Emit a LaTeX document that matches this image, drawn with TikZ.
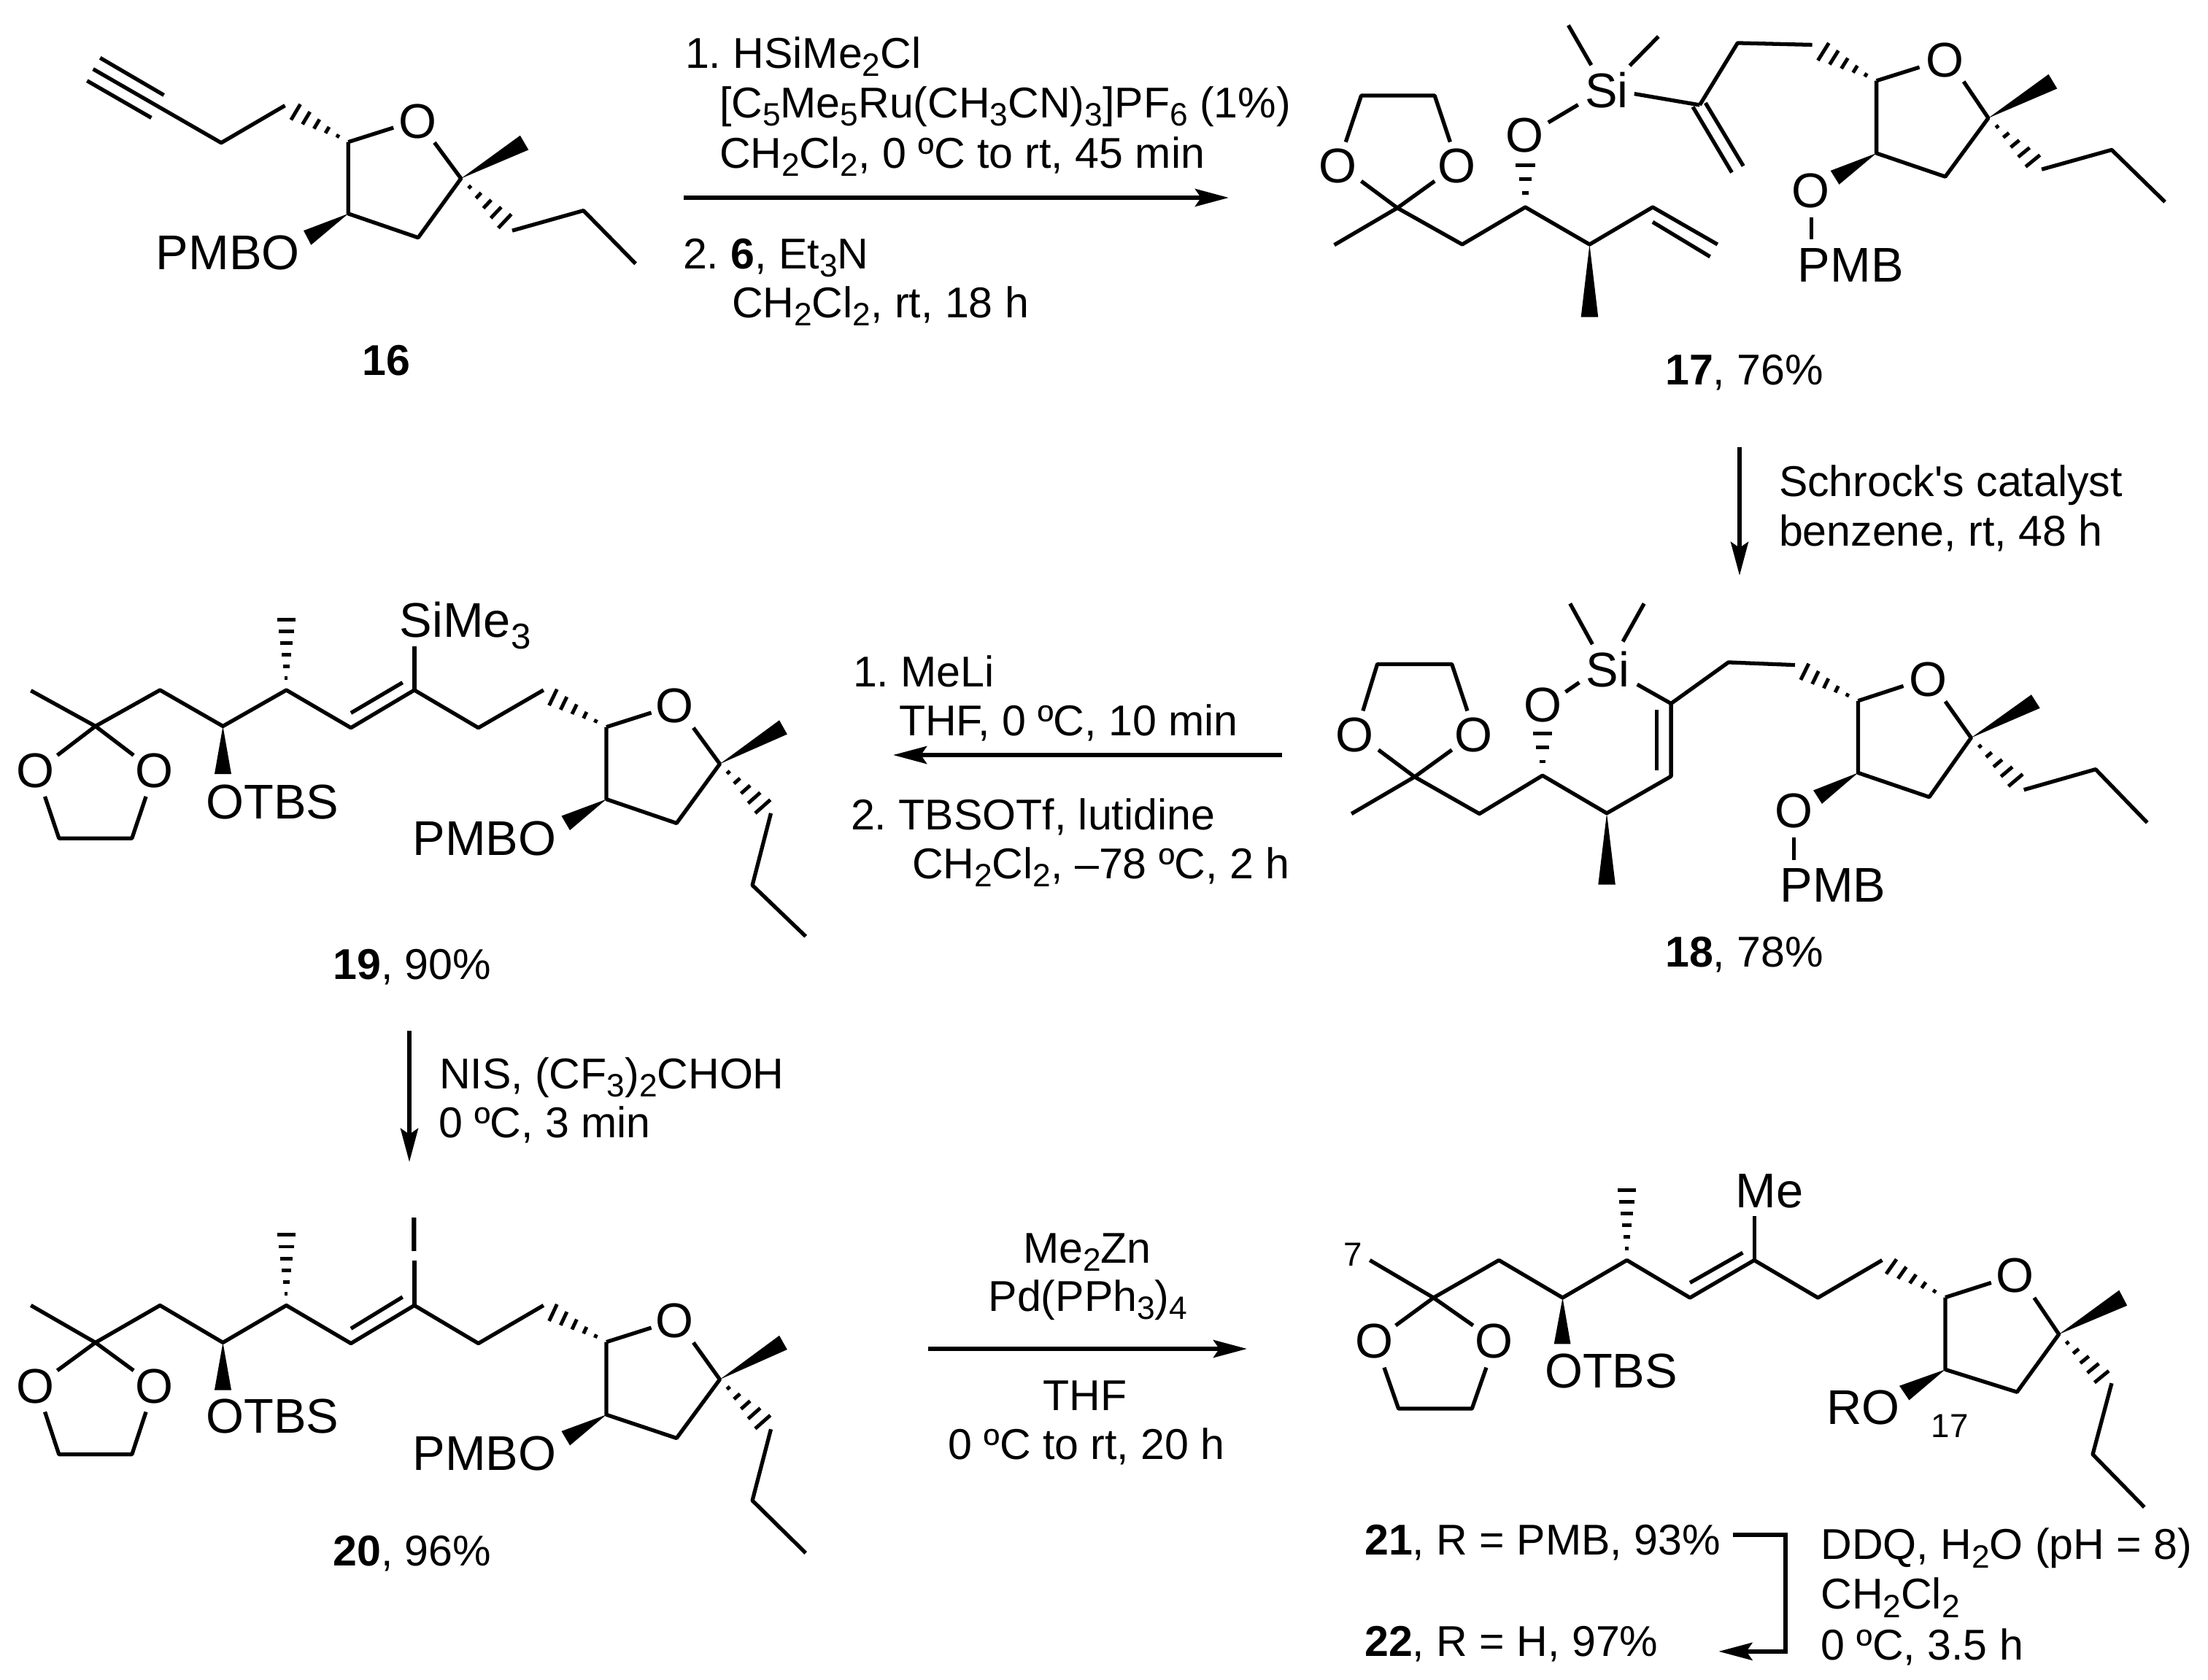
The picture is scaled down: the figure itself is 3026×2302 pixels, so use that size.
\documentclass[tikz,border=0pt]{standalone}
\usepackage{fontspec}
\setmainfont{Liberation Sans}
\newfontfamily\plainf{Liberation Sans}
\usetikzlibrary{calc,arrows.meta}
\newcommand\mf{\frenchspacing\fontsize{19}{23}\selectfont}
\newcommand\rf{\frenchspacing\fontsize{16.8}{20}\selectfont}
\newcommand\sbs[1]{\raisebox{-3.3pt}{\fontsize{12.6}{13}\selectfont #1}}
\newcommand\sbm[1]{\raisebox{-4.5pt}{\fontsize{14}{14}\selectfont #1}}
\newcommand\hashw[4]{\foreach \k in {1,...,#4}{\draw[hb] ($(#1)!\k/#4!(#2)$) -- ($(#1)!\k/#4!(#3)$);}}
\newcommand\wdg[3]{\fill (#1) -- (#2) -- (#3) -- cycle;}
\tikzset{
  bond/.style={line width=1.5pt,line join=round,line cap=butt},
  hb/.style={line width=1.4pt,line cap=butt},
  lab/.style={inner sep=0,outer sep=0,anchor=base west,font=\mf},
  rg/.style={inner sep=0,outer sep=0,anchor=base west,font=\rf},
  atm/.style={inner sep=0,outer sep=0,anchor=center,font=\mf},
  cen/.style={inner sep=0,outer sep=0,anchor=base,font=\rf},
  sml/.style={inner sep=0,outer sep=0,anchor=center,font=\fontsize{13}{14}\selectfont},
  rxn/.style={line width=1.7pt,line join=miter,-{Stealth[length=0.46cm,width=0.24cm,inset=0.08cm]}},
}
\begin{document}
\begin{tikzpicture}[x=0.01cm,y=-0.01cm]
\fill[white] (0,0) rectangle (3026,2302);
\useasboundingbox (0,0) rectangle (3026,2302);
% ---------- 16
\begin{scope}[x=0.0063776cm,y=-0.0035714cm]
\draw[bond] (200,265)--(475,548)--(612,405);
\draw[bond] (215,222)--(352,365);
\draw[bond] (187,310)--(325,452);
\hashw{748,545}{645,400}{625,460}{5}
\draw[bond] (748,545)--(845,490);
\draw[bond] (933,547)--(990,685)--(898,912)--(748,820)--(748,545);
\wdg{990,685}{1117,520}{1135,575}
\wdg{748,820}{652,885}{668,940}
\hashw{990,685}{1098,822}{1070,875}{5}
\draw[bond] (1100,885)--(1253,808)--(1365,1012);
\node[atm] (o16) at (897,465) {O};
\node[lab] (p16) at (335,1035) {PMBO};
\node[rg] (n16) at (778,1440) {\textbf{16}};
\end{scope}
% ---------- 17
\begin{scope}[xshift=18cm,x=0.0078616cm,y=-0.0035714cm]
\node[atm] (o17a) at (41,638) {O};
\node[atm] (o17b) at (248,638) {O};
\draw[bond] (55,545)--(82,367)--(210,367)--(237,545);
\draw[bond] (82,695)--(145,798)--(210,695);
\draw[bond] (145,798)--(35,940);
\draw[bond] (145,798)--(258,938)--(368,795)--(480,938)--(590,795)--(703,938);
\draw[bond] (590,852)--(690,985);
\wdg{480,938}{465,1217}{495,1217}
\hashw{368,795}{351,635}{385,635}{3}
\node[atm] (o17c) at (367,520) {O};
\draw[bond] (408,470)--(460,402);
\node[atm] (si17) at (510,345) {Si};
\draw[bond] (483,250)--(443,97);
\draw[bond] (550,252)--(600,140);
\draw[bond] (558,360)--(672,403);
\draw[bond] (660,410)--(728,662);
\draw[bond] (682,395)--(748,637);
\draw[bond] (672,403)--(738,165)--(868,172);
\hashw{980,310}{897,165}{878,232}{5}
\draw[bond] (980,310)--(1055,258);
\draw[bond] (1132,313)--(1175,453)--(1100,678)--(980,588)--(980,310);
\node[atm] (o17d) at (1100,230) {O};
\wdg{1175,453}{1280,285}{1295,340}
\wdg{980,588}{900,655}{915,708}
\hashw{1175,453}{1265,595}{1240,640}{5}
\draw[bond] (1268,650)--(1390,575)--(1483,775);
\node[atm] (o17e) at (866,733) {O};
\draw[bond] (867,835)--(867,918);
\node[lab] (p17) at (843,1082) {PMB};
\node[rg] (n17) at (612,1478) {\textbf{17}, 76\%};
\end{scope}
% ---------- 18
\begin{scope}[xshift=18cm,yshift=-7.8cm,x=0.0078616cm,y=-0.0036996cm]
\node[atm] (o18a) at (70,615) {O};
\node[atm] (o18b) at (278,615) {O};
\draw[bond] (85,525)--(110,352)--(240,352)--(267,525);
\draw[bond] (112,670)--(175,770)--(240,670);
\draw[bond] (175,770)--(65,907);
\draw[bond] (175,770)--(288,907)--(398,765)--(510,905)--(622,768)--(622,498)--(722,345)--(838,355);
\draw[bond] (597,522)--(597,745);
\wdg{510,905}{495,1170}{525,1170}
\hashw{398,765}{381,610}{415,610}{3}
\node[atm] (o18c) at (398,503) {O};
\draw[bond] (438,455)--(462,420);
\node[atm] (si18) at (512,370) {Si};
\draw[bond] (485,278)--(446,127);
\draw[bond] (538,268)--(575,127);
\draw[bond] (563,427)--(622,498);
\hashw{948,488}{862,350}{848,410}{5}
\draw[bond] (948,488)--(1027,433);
\node[atm] (o18d) at (1070,410) {O};
\draw[bond] (1100,490)--(1145,625)--(1072,845)--(948,755)--(948,488);
\wdg{1145,625}{1250,465}{1265,515}
\wdg{948,755}{870,820}{885,870}
\hashw{1145,625}{1235,760}{1210,805}{5}
\draw[bond] (1237,818)--(1362,742)--(1452,940);
\node[atm] (o18e) at (836,897) {O};
\draw[bond] (836,995)--(836,1078);
\node[lab] (p18) at (812,1235) {PMB};
\node[rg] (n18) at (612,1475) {\textbf{18}, 78\%};
\end{scope}
% ---------- 19
\begin{scope}[yshift=-7.8cm,x=0.0076923cm,y=-0.0036996cm]
\node[atm] (o19a) at (63,748) {O};
\node[atm] (o19b) at (275,748) {O};
\draw[bond] (80,843)--(105,998)--(235,998)--(260,843);
\draw[bond] (102,690)--(170,582)--(238,690);
\draw[bond] (170,582)--(55,450);
\draw[bond] (170,582)--(285,448)--(397,582)--(510,448)--(625,588)--(738,448)--(852,588)--(968,448);
\draw[bond] (625,533)--(717,420);
\wdg{397,582}{382,760}{412,760}
\hashw{510,448}{494,187}{526,187}{6}
\draw[bond] (738,448)--(738,287);
\node[lab] (s19) at (712,253) {SiMe\sbm{3}};
\hashw{1080,585}{992,445}{978,505}{5}
\draw[bond] (1080,585)--(1160,532);
\node[atm] (o19c) at (1202,505) {O};
\draw[bond] (1235,588)--(1282,722)--(1205,942)--(1080,853)--(1080,585);
\wdg{1282,722}{1388,560}{1402,612}
\wdg{1080,853}{1000,915}{1015,968}
\hashw{1282,722}{1372,855}{1345,905}{5}
\draw[bond] (1373,905)--(1340,1172)--(1435,1362);
\node[lab] (t19) at (367,925) {OTBS};
\node[lab] (p19) at (735,1060) {PMBO};
\node[rg] (n19) at (593,1522) {\textbf{19}, 90\%};
\end{scope}
% ---------- 20
\begin{scope}[yshift=-16cm,x=0.0076923cm,y=-0.0038314cm]
\node[atm] (o20a) at (63,782) {O};
\node[atm] (o20b) at (275,782) {O};
\draw[bond] (80,873)--(105,1025)--(235,1025)--(260,873);
\draw[bond] (102,725)--(170,625)--(238,725);
\draw[bond] (170,625)--(55,492);
\draw[bond] (170,625)--(285,492)--(397,625)--(510,492)--(625,628)--(738,492)--(852,628)--(968,492);
\draw[bond] (625,575)--(717,462);
\wdg{397,625}{382,795}{412,795}
\hashw{510,492}{494,240}{526,240}{6}
\draw[bond] (738,332)--(738,492);
\node[atm] (i20) at (738,240) {I};
\hashw{1080,623}{992,488}{978,548}{5}
\draw[bond] (1080,623)--(1160,572);
\node[atm] (o20c) at (1202,548) {O};
\draw[bond] (1235,625)--(1282,757)--(1205,967)--(1080,883)--(1080,623);
\wdg{1282,757}{1388,600}{1402,650}
\wdg{1080,883}{1000,942}{1015,993}
\hashw{1282,757}{1372,885}{1345,933}{5}
\draw[bond] (1373,935)--(1340,1190)--(1435,1378);
\node[lab] (t20) at (367,950) {OTBS};
\node[lab] (p20) at (735,1083) {PMBO};
\node[rg] (n20) at (593,1425) {\textbf{20}, 96\%};
\end{scope}
% ---------- 21/22
\begin{scope}[xshift=18cm,yshift=-16cm,x=0.0078616cm,y=-0.0044783cm]
\node[atm] (o21a) at (105,530) {O};
\node[atm] (o21b) at (313,530) {O};
\draw[bond] (122,612)--(147,738)--(275,738)--(300,612);
\draw[bond] (142,483)--(208,398)--(277,483);
\draw[bond] (208,398)--(97,283);
\draw[bond] (208,398)--(322,283)--(433,398)--(545,283)--(655,398)--(767,283)--(878,398)--(990,283);
\draw[bond] (655,352)--(747,260);
\wdg{433,398}{418,540}{447,540}
\hashw{545,283}{529,68}{561,68}{6}
\draw[bond] (767,283)--(767,147);
\node[lab] (m21) at (735,122) {Me};
\node[sml] (l7) at (68,265) {7};
\node[sml] (l17) at (1108,792) {17};
\hashw{1100,397}{1015,280}{997,325}{5}
\draw[bond] (1100,397)--(1180,352);
\node[atm] (o21c) at (1222,330) {O};
\draw[bond] (1255,398)--(1298,510)--(1225,687)--(1100,618)--(1100,397);
\wdg{1298,510}{1403,375}{1417,422}
\wdg{1100,618}{1020,668}{1037,712}
\hashw{1298,510}{1385,622}{1360,658}{5}
\draw[bond] (1390,660)--(1357,878)--(1447,1040);
\node[lab] (t21) at (402,675) {OTBS};
\node[lab] (r21) at (893,785) {RO};
\node[rg] (n21) at (88,1187) {\textbf{21}, R = PMB, 93\%};
\node[rg] (n22) at (88,1497) {\textbf{22}, R = H, 97\%};
\node[rg] (d1) at (883,1200) {DDQ, H\sbs{2}O (pH = 8)};
\node[rg] (d2) at (883,1352) {CH\sbs{2}Cl\sbs{2}};
\node[rg] (d3) at (883,1507) {0 ºC, 3.5 h};
\coordinate (a6s) at (730,1125);
\coordinate (a6m) at (822,1125);
\coordinate (a6n) at (822,1482);
\coordinate (a6e) at (705,1482);
\draw[rxn] (a6s)--(a6m)--(a6n)--(a6e);
\end{scope}
% ---------- reaction 1
\coordinate (a1s) at (937,271);
\coordinate (a1e) at (1684,271);
\draw[rxn] (a1s)--(a1e);
\node[rg] (r1a) at (939,93) {1. HSiMe\sbs{2}Cl};
\node[rg] (r1b) at (986,161) {[C\sbs{5}Me\sbs{5}Ru(CH\sbs{3}CN)\sbs{3}]PF\sbs{6} (1\%)};
\node[rg] (r1c) at (986,230) {CH\sbs{2}Cl\sbs{2}, 0 ºC to rt, 45 min};
\node[rg] (r1d) at (936,368) {2. \textbf{6}, Et\sbs{3}N};
\node[rg] (r1e) at (1003,435) {CH\sbs{2}Cl\sbs{2}, rt, 18 h};
% ---------- reaction 2
\coordinate (a2s) at (2384,613);
\coordinate (a2e) at (2384,789);
\draw[rxn] (a2s)--(a2e);
\node[rg] (r2a) at (2438,680) {Schrock{\plainf '}s catalyst};
\node[rg] (r2b) at (2438,748) {benzene, rt, 48 h};
% ---------- reaction 3
\coordinate (a3s) at (1757,1035);
\coordinate (a3e) at (1224,1035);
\draw[rxn] (a3s)--(a3e);
\node[rg] (r3a) at (1169,941) {1. MeLi};
\node[rg] (r3b) at (1232,1008) {THF, 0 ºC, 10 min};
\node[rg] (r3c) at (1166,1137) {2. TBSOTf, lutidine};
\node[rg] (r3d) at (1250,1204) {CH\sbs{2}Cl\sbs{2}, --78 ºC, 2 h};
% ---------- reaction 4
\coordinate (a4s) at (561,1413);
\coordinate (a4e) at (561,1593);
\draw[rxn] (a4s)--(a4e);
\node[rg] (r4a) at (602,1492) {NIS, (CF\sbs{3})\sbs{2}CHOH};
\node[rg] (r4b) at (601,1559) {0 ºC, 3 min};
% ---------- reaction 5
\coordinate (a5s) at (1272,1849);
\coordinate (a5e) at (1709,1849);
\draw[rxn] (a5s)--(a5e);
\node[cen] (r5a) at (1490,1731) {Me\sbs{2}Zn};
\node[cen] (r5b) at (1491,1797) {Pd(PPh\sbs{3})\sbs{4}};
\node[cen] (r5c) at (1487,1933) {THF};
\node[cen] (r5d) at (1489,2000) {0 ºC to rt, 20 h};
\end{tikzpicture}
\end{document}
